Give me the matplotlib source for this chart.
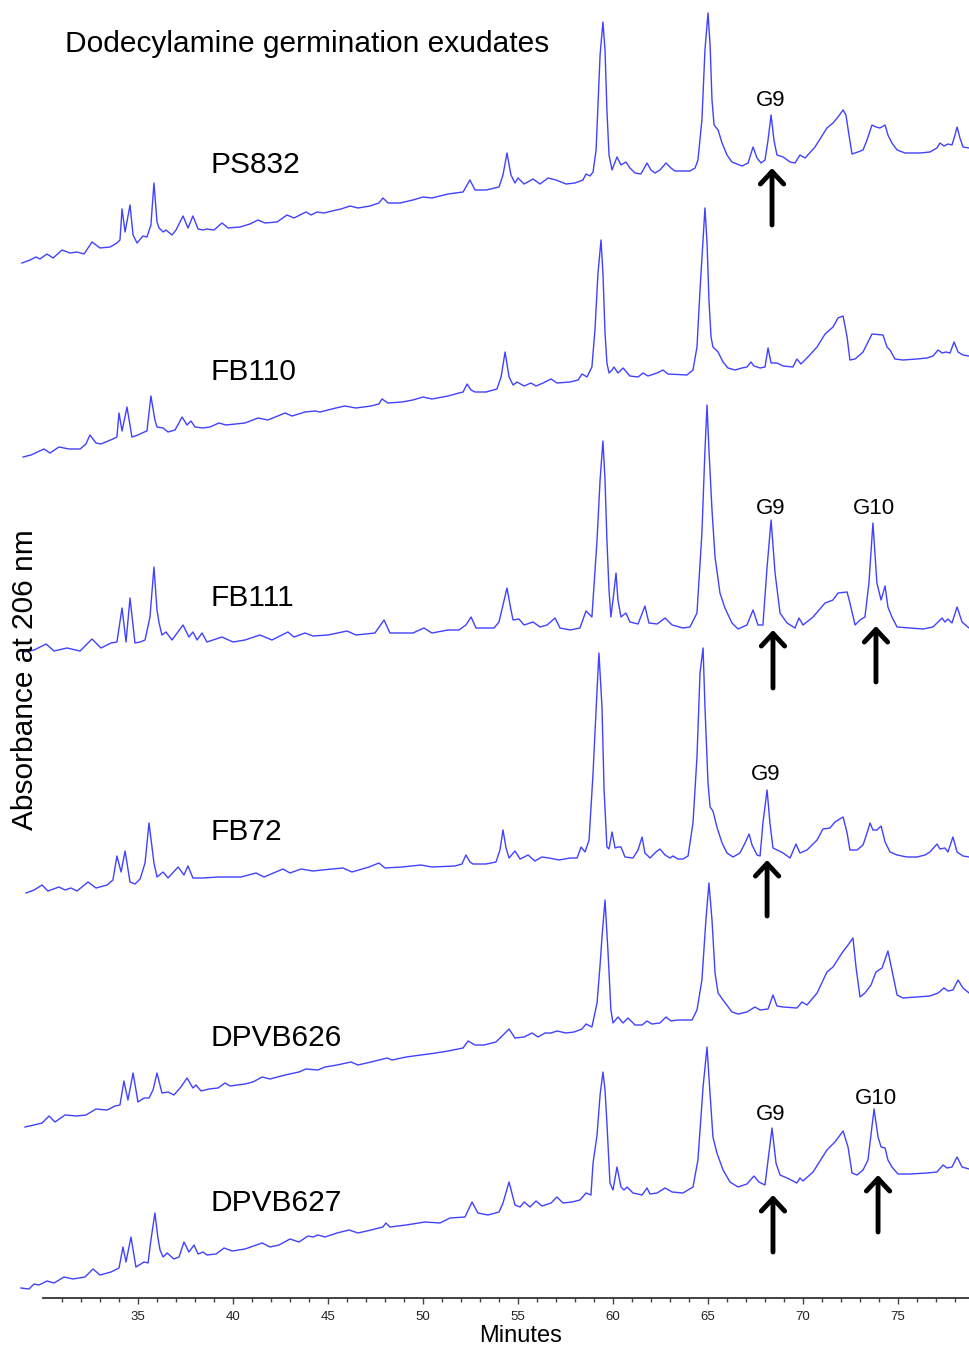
import matplotlib.pyplot as plt
from matplotlib import font_manager as fm

# Digitised chromatograms: retention time (min) and absorbance (arbitrary units,
# measured from each trace's own starting level)
ps832_t = [28.89, 29.32, 29.63, 29.84, 30.21, 30.53, 31.0, 31.42, 31.79, 32.16, 32.58, 33.0, 33.53, 33.89,
           34.05, 34.16, 34.32, 34.58, 34.74, 34.95, 35.26, 35.47, 35.68, 35.84, 36.0, 36.11, 36.32, 36.47,
           36.79, 37.0, 37.37, 37.63, 37.89, 38.16, 38.42, 38.63, 39.0, 39.42, 39.74, 40.37, 40.89, 41.32,
           41.68, 42.32, 42.84, 43.21, 43.84, 44.11, 44.42, 44.79, 45.21, 45.68, 46.16, 46.58, 47.21, 47.68,
           47.89, 48.16, 48.79, 49.47, 50.0, 50.47, 51.32, 52.11, 52.47, 52.74, 53.32, 54.0, 54.21, 54.42,
           54.63, 54.84, 55.0, 55.32, 55.79, 56.16, 56.58, 57.0, 57.53, 58.0, 58.42, 58.58, 58.79, 58.95,
           59.11, 59.21, 59.32, 59.47, 59.58, 59.68, 59.79, 59.95, 60.21, 60.42, 60.68, 60.89, 61.16, 61.47,
           61.79, 62.0, 62.21, 62.47, 62.79, 63.05, 63.26, 64.05, 64.32, 64.47, 64.68, 64.84, 65.0, 65.11,
           65.21, 65.32, 65.53, 65.74, 66.0, 66.26, 66.79, 67.11, 67.37, 67.58, 67.79, 68.0, 68.16, 68.32,
           68.47, 68.63, 68.95, 69.32, 69.58, 69.84, 70.11, 70.63, 71.26, 71.58, 71.84, 72.11, 72.26, 72.42,
           72.58, 72.89, 73.16, 73.37, 73.63, 73.84, 74.05, 74.32, 74.47, 74.68, 74.95, 75.37, 76.16, 76.68,
           77.05, 77.21, 77.42, 77.63, 77.84, 78.0, 78.11, 78.26, 78.42, 78.74]
ps832_a = [0, 3, 6, 4, 9, 5, 13, 10, 11, 9, 21, 15, 16, 20,
           23, 54, 31, 58, 28, 20, 27, 26, 38, 80, 41, 35, 31, 33,
           28, 33, 47, 35, 47, 34, 33, 34, 33, 40, 35, 36, 39, 43,
           40, 41, 48, 45, 51, 48, 51, 50, 52, 54, 57, 55, 57, 60,
           65, 60, 60, 63, 66, 65, 69, 71, 83, 73, 73, 76, 88, 110,
           88, 80, 85, 79, 84, 79, 85, 83, 79, 80, 83, 89, 87, 91,
           113, 158, 208, 241, 213, 153, 108, 93, 106, 98, 101, 95, 90, 89,
           100, 93, 90, 93, 100, 95, 92, 92, 95, 103, 143, 213, 250, 218,
           163, 138, 133, 120, 108, 101, 97, 100, 116, 105, 100, 103, 123, 148,
           123, 108, 106, 101, 100, 108, 105, 116, 135, 140, 146, 153, 148, 128,
           109, 111, 113, 123, 138, 136, 135, 138, 128, 120, 113, 110, 110, 111,
           115, 120, 117, 119, 118, 128, 136, 125, 116, 115]

fb110_t = [28.95, 29.37, 30.05, 30.37, 30.84, 31.37, 31.95, 32.26, 32.47, 32.79, 33.05, 33.68, 33.89, 34.0,
           34.16, 34.42, 34.68, 35.0, 35.21, 35.47, 35.68, 35.89, 36.0, 36.32, 36.58, 36.95, 37.32, 37.58,
           37.79, 38.0, 38.42, 38.79, 39.26, 39.63, 40.63, 41.32, 41.84, 42.74, 43.11, 43.79, 44.32, 44.58,
           45.42, 45.89, 46.47, 47.26, 47.68, 47.84, 48.16, 48.89, 49.47, 50.0, 50.47, 51.32, 51.89, 52.11,
           52.32, 52.53, 52.74, 53.32, 53.89, 54.11, 54.32, 54.53, 54.74, 54.95, 55.32, 55.68, 55.95, 56.32,
           56.74, 57.05, 57.74, 58.16, 58.37, 58.63, 58.89, 59.05, 59.21, 59.37, 59.47, 59.58, 59.68, 59.79,
           59.95, 60.05, 60.26, 60.53, 60.89, 61.32, 61.58, 61.84, 62.32, 62.63, 62.89, 63.89, 64.21, 64.42,
           64.58, 64.74, 64.84, 64.95, 65.05, 65.16, 65.26, 65.53, 65.79, 66.05, 66.42, 66.79, 67.05, 67.26,
           67.42, 67.74, 68.0, 68.16, 68.32, 68.63, 68.95, 69.47, 69.68, 69.89, 70.21, 70.74, 71.16, 71.58,
           71.84, 72.11, 72.32, 72.47, 72.74, 73.16, 73.42, 73.63, 74.21, 74.42, 74.58, 74.84, 75.26, 76.0,
           76.53, 76.84, 77.11, 77.32, 77.53, 77.74, 77.95, 78.16, 78.42, 78.74]
fb110_a = [0, 2, 8, 4, 10, 8, 8, 13, 22, 14, 13, 18, 20, 44,
           26, 50, 20, 22, 24, 26, 61, 37, 30, 29, 25, 27, 40, 32,
           36, 30, 29, 30, 34, 32, 34, 39, 37, 44, 41, 45, 46, 45,
           49, 51, 49, 51, 53, 58, 54, 55, 57, 60, 58, 61, 64, 65,
           73, 67, 65, 65, 68, 80, 105, 80, 72, 75, 71, 74, 71, 74,
           78, 74, 75, 77, 83, 80, 90, 127, 184, 217, 184, 124, 94, 84,
           87, 90, 84, 89, 81, 80, 84, 81, 84, 87, 83, 82, 87, 110,
           167, 217, 249, 214, 157, 120, 110, 105, 95, 89, 87, 89, 90, 95,
           91, 89, 90, 109, 94, 94, 91, 90, 98, 93, 99, 110, 123, 130,
           139, 141, 120, 97, 98, 105, 115, 123, 122, 110, 107, 98, 97, 98,
           99, 101, 107, 104, 105, 104, 115, 105, 102, 101]

fb111_t = [29.0, 29.53, 30.16, 30.58, 31.26, 31.95, 32.58, 33.05, 33.58, 33.89, 34.16, 34.37, 34.58, 34.84,
           35.11, 35.37, 35.63, 35.84, 36.0, 36.11, 36.26, 36.47, 36.79, 37.37, 37.68, 37.89, 38.11, 38.37,
           38.63, 39.42, 40.0, 40.63, 41.42, 42.05, 42.89, 43.21, 43.79, 44.21, 45.0, 46.0, 46.47, 47.47,
           47.95, 48.26, 48.89, 49.47, 50.05, 50.47, 51.32, 51.89, 52.26, 52.53, 52.79, 53.74, 54.0, 54.21,
           54.42, 54.63, 54.74, 55.05, 55.32, 55.79, 56.16, 56.53, 56.95, 57.21, 57.74, 58.26, 58.58, 58.89,
           59.16, 59.32, 59.47, 59.58, 59.68, 59.79, 59.89, 60.0, 60.16, 60.26, 60.42, 60.68, 60.89, 61.32,
           61.68, 61.89, 62.32, 62.74, 63.11, 63.68, 64.05, 64.42, 64.68, 64.84, 64.95, 65.05, 65.21, 65.37,
           65.63, 65.89, 66.26, 66.58, 67.05, 67.37, 67.63, 67.89, 68.11, 68.32, 68.53, 68.79, 69.16, 69.58,
           69.79, 70.0, 70.53, 71.16, 71.58, 71.84, 72.32, 72.47, 72.74, 73.0, 73.26, 73.47, 73.68, 73.89,
           74.11, 74.32, 74.47, 74.68, 74.95, 75.63, 76.32, 76.84, 77.32, 77.47, 77.63, 77.84, 78.11, 78.37,
           78.74]
fb111_a = [0, 2, 8, 1, 4, 1, 13, 4, 9, 10, 44, 10, 54, 9,
           10, 12, 35, 85, 42, 29, 17, 20, 12, 27, 15, 20, 12, 19,
           10, 15, 10, 12, 17, 12, 20, 15, 19, 16, 17, 21, 17, 19,
           32, 19, 19, 19, 24, 19, 22, 22, 27, 35, 24, 24, 30, 47,
           64, 42, 32, 33, 27, 30, 25, 27, 34, 24, 22, 24, 41, 35,
           112, 172, 211, 172, 112, 62, 35, 52, 79, 52, 35, 39, 30, 28,
           46, 29, 28, 34, 27, 24, 25, 39, 119, 202, 247, 202, 142, 95,
           59, 44, 29, 23, 27, 42, 27, 27, 85, 132, 79, 39, 29, 24,
           34, 27, 35, 49, 52, 59, 60, 49, 27, 32, 35, 69, 129, 69,
           52, 66, 45, 35, 25, 24, 23, 25, 34, 30, 33, 29, 45, 30,
           24]

fb72_t = [29.11, 29.53, 29.95, 30.26, 30.84, 31.16, 31.47, 31.79, 32.37, 32.79, 33.37, 33.68, 33.89, 34.11,
          34.32, 34.58, 34.84, 35.11, 35.37, 35.58, 35.84, 36.0, 36.32, 36.58, 37.11, 37.42, 37.63, 37.89,
          38.42, 39.21, 39.95, 40.42, 41.21, 41.63, 42.63, 43.0, 43.58, 44.21, 45.21, 45.79, 46.26, 47.16,
          47.68, 48.0, 48.89, 49.89, 50.47, 51.68, 52.05, 52.26, 52.47, 52.63, 53.32, 53.84, 54.05, 54.21,
          54.37, 54.53, 54.84, 55.11, 55.53, 55.89, 56.26, 56.63, 57.16, 57.74, 58.11, 58.32, 58.53, 58.74,
          58.95, 59.16, 59.26, 59.42, 59.53, 59.68, 59.79, 59.95, 60.11, 60.26, 60.42, 60.63, 61.05, 61.32,
          61.53, 61.68, 61.95, 62.26, 62.47, 62.74, 63.0, 63.16, 63.42, 63.68, 63.95, 64.21, 64.42, 64.58,
          64.74, 64.84, 65.0, 65.11, 65.26, 65.47, 65.74, 66.0, 66.32, 66.68, 66.95, 67.16, 67.32, 67.58,
          67.74, 67.89, 68.11, 68.26, 68.42, 68.63, 68.95, 69.32, 69.63, 69.84, 70.21, 70.74, 71.05, 71.42,
          71.68, 72.11, 72.32, 72.47, 72.84, 73.16, 73.37, 73.53, 73.68, 73.89, 74.11, 74.32, 74.58, 74.95,
          75.47, 76.0, 76.42, 76.68, 77.05, 77.21, 77.47, 77.63, 77.89, 78.11, 78.42, 78.74]
fb72_a = [0, 3, 8, 2, 6, 3, 5, 2, 11, 5, 8, 13, 37, 21,
          42, 11, 9, 14, 30, 70, 30, 16, 21, 15, 26, 18, 27, 15,
          15, 16, 16, 16, 20, 16, 24, 20, 24, 22, 24, 25, 21, 26,
          30, 25, 26, 28, 26, 27, 29, 38, 31, 29, 29, 31, 43, 63,
          45, 35, 42, 34, 38, 32, 36, 35, 33, 35, 35, 46, 41, 53,
          120, 203, 240, 186, 103, 46, 44, 61, 45, 46, 46, 36, 35, 43,
          56, 40, 35, 41, 44, 38, 35, 37, 34, 34, 37, 70, 136, 220,
          245, 186, 110, 86, 82, 66, 50, 40, 36, 40, 50, 59, 48, 38,
          37, 70, 103, 70, 45, 43, 40, 35, 49, 40, 43, 53, 64, 65,
          71, 76, 60, 43, 43, 48, 60, 70, 63, 63, 67, 51, 41, 38,
          36, 36, 38, 41, 49, 44, 45, 41, 56, 41, 37, 36]

dpvb626_t = [29.05, 29.53, 29.95, 30.32, 30.63, 31.16, 31.79, 32.26, 32.79, 33.37, 33.79, 34.05, 34.26, 34.47,
             34.74, 35.0, 35.32, 35.58, 35.79, 36.0, 36.26, 36.58, 36.89, 37.26, 37.58, 37.89, 38.05, 38.32,
             38.74, 39.21, 39.58, 39.84, 40.63, 41.05, 41.53, 41.95, 42.74, 43.47, 43.84, 44.47, 44.84, 45.47,
             46.21, 46.58, 47.26, 48.11, 48.37, 49.11, 49.89, 50.68, 51.32, 52.11, 52.37, 52.74, 53.21, 53.84,
             54.11, 54.53, 54.84, 55.32, 55.74, 56.05, 56.42, 56.74, 57.05, 57.53, 57.95, 58.37, 58.58, 58.89,
             59.16, 59.32, 59.42, 59.58, 59.74, 59.89, 60.0, 60.26, 60.53, 60.79, 61.16, 61.53, 61.79, 62.05,
             62.47, 62.79, 63.05, 63.42, 64.16, 64.42, 64.68, 64.89, 65.05, 65.21, 65.37, 65.53, 65.79, 66.26,
             66.58, 67.05, 67.47, 67.74, 68.16, 68.42, 68.63, 68.95, 69.68, 69.95, 70.21, 70.74, 71.26, 71.58,
             72.05, 72.37, 72.63, 72.79, 73.0, 73.26, 73.58, 73.84, 74.16, 74.47, 74.68, 74.95, 75.26, 76.0,
             76.68, 77.11, 77.42, 77.63, 77.89, 78.16, 78.42, 78.74]
dpvb626_a = [0, 2, 4, 11, 5, 12, 11, 12, 18, 17, 21, 22, 46, 27,
             54, 25, 29, 29, 37, 54, 34, 35, 32, 40, 49, 39, 42, 36,
             38, 39, 44, 41, 43, 45, 50, 48, 52, 55, 58, 57, 60, 62,
             65, 62, 65, 69, 67, 70, 72, 74, 76, 79, 86, 82, 82, 85,
             90, 98, 89, 90, 94, 90, 94, 94, 96, 94, 95, 98, 103, 100,
             124, 162, 190, 227, 174, 117, 104, 110, 104, 109, 102, 102, 106, 103,
             104, 110, 106, 107, 107, 117, 147, 207, 244, 207, 154, 134, 127, 115,
             113, 115, 120, 117, 118, 132, 121, 120, 119, 125, 122, 134, 155, 160,
             174, 182, 189, 160, 130, 134, 142, 155, 159, 176, 157, 132, 129, 130,
             131, 134, 139, 136, 137, 147, 139, 134]

dpvb627_t = [28.84, 29.26, 29.53, 29.79, 30.21, 30.58, 31.11, 31.58, 32.21, 32.63, 33.0, 33.58, 34.0, 34.21,
             34.37, 34.63, 34.89, 35.32, 35.53, 35.68, 35.89, 36.05, 36.16, 36.32, 36.53, 36.89, 37.16, 37.42,
             37.68, 37.95, 38.16, 38.42, 38.63, 39.11, 39.53, 39.95, 40.63, 41.53, 41.95, 42.42, 43.0, 43.47,
             43.95, 44.21, 44.47, 44.84, 45.47, 46.11, 46.58, 47.26, 47.89, 48.05, 48.26, 49.11, 50.11, 50.89,
             51.42, 52.21, 52.58, 52.89, 53.42, 54.0, 54.21, 54.53, 54.84, 55.11, 55.32, 55.63, 55.95, 56.26,
             56.74, 57.05, 57.37, 57.84, 58.26, 58.58, 58.84, 58.95, 59.16, 59.32, 59.47, 59.58, 59.68, 59.84,
             60.0, 60.21, 60.42, 60.58, 60.74, 61.05, 61.53, 61.79, 61.95, 62.32, 62.74, 63.11, 63.68, 64.21,
             64.47, 64.74, 64.95, 65.05, 65.26, 65.47, 65.79, 66.16, 66.58, 67.05, 67.42, 67.68, 68.0, 68.16,
             68.37, 68.58, 68.79, 69.16, 69.68, 69.84, 70.0, 70.53, 71.26, 71.68, 72.11, 72.37, 72.58, 72.84,
             73.16, 73.42, 73.74, 73.95, 74.11, 74.32, 74.47, 74.68, 75.0, 75.63, 76.53, 77.05, 77.37, 77.58,
             77.84, 78.11, 78.37, 78.74]
dpvb627_a = [0, -1, 4, 3, 7, 5, 11, 9, 11, 19, 13, 16, 20, 41,
             26, 51, 21, 26, 25, 48, 75, 50, 38, 31, 35, 29, 31, 46,
             36, 43, 34, 36, 33, 34, 40, 37, 39, 45, 41, 43, 49, 46,
             52, 51, 53, 51, 55, 58, 55, 58, 61, 65, 61, 63, 66, 65,
             70, 71, 86, 75, 73, 76, 85, 106, 83, 81, 86, 81, 87, 82,
             85, 91, 85, 86, 88, 95, 93, 125, 153, 193, 216, 198, 165, 105,
             98, 121, 101, 98, 101, 95, 93, 100, 94, 95, 100, 96, 95, 101,
             128, 201, 241, 211, 151, 135, 118, 106, 101, 104, 112, 106, 103, 128,
             160, 125, 113, 110, 105, 110, 107, 116, 138, 146, 157, 141, 115, 113,
             118, 128, 179, 151, 141, 140, 128, 121, 114, 114, 115, 116, 123, 120,
             121, 131, 121, 119]

samples = ["PS832", "FB110", "FB111", "FB72", "DPVB626", "DPVB627"]
times = [ps832_t, fb110_t, fb111_t, fb72_t, dpvb626_t, dpvb627_t]
signals = [ps832_a, fb110_a, fb111_a, fb72_a, dpvb626_a, dpvb627_a]
offsets = [1035, 841, 646, 405, 171, 10]          # vertical stacking of the traces
label_heights = [1133, 926, 700, 466, 260, 95]

# peak markers: (name, retention time, arrow tip, arrow tail, label height)
markers = [
    ("G9", 68.37, 1130, 1073, 1198),
    ("G9", 68.42, 668, 610, 790),
    ("G10", 73.84, 672, 616, 790),
    ("G9", 68.11, 438, 382, 523),
    ("G9", 68.42, 103, 46, 183),
    ("G10", 73.95, 123, 66, 200),
]

names = {f.name for f in fm.fontManager.ttflist}
main_font = "Liberation Sans" if "Liberation Sans" in names else "DejaVu Sans"
tick_font = "Liberation Sans Narrow" if "Liberation Sans Narrow" in names else main_font
plt.rcParams['font.family'] = [main_font, 'DejaVu Sans']

W, H = 969, 1348
fig = plt.figure(figsize=(W / 100, H / 100), dpi=100)
ax = fig.add_axes([0, 50 / H, 1, 1298 / H])

for t, a, off in zip(times, signals, offsets):
    ax.plot(t, [v + off for v in a], color='#4141ff', lw=1.0)

for name, y in zip(samples, label_heights):
    ax.text(38.79, y, name, fontsize=21.5, va='center', ha='left')

for lab, t, tip, tail, ly in markers:
    ax.annotate('', xy=(t, tip), xytext=(t, tail),
                arrowprops=dict(arrowstyle='->, head_length=0.45, head_width=0.42',
                                lw=3.5, color='black', mutation_scale=20,
                                shrinkA=0, shrinkB=0))
    ax.text(t - 0.1, ly, lab, fontsize=16, ha='center', va='center')

ax.set_xlim(527 / 19, 1496 / 19)
ax.set_ylim(0, 1298)
ax.set_yticks([])
ax.set_xticks(range(35, 80, 5))
ax.set_xticks(range(31, 79), minor=True)
ax.tick_params(axis='x', which='major', length=4.5, width=1.0, color='#444444',
               labelsize=9.5, pad=5, labelcolor='#222222')
ax.tick_params(axis='x', which='minor', length=3, width=1.0, color='#444444')
for lbl in ax.get_xticklabels():
    lbl.set_fontfamily(tick_font)
for side in ['left', 'top', 'right']:
    ax.spines[side].set_visible(False)
ax.spines['bottom'].set_bounds(30, 1496 / 19)
ax.spines['bottom'].set_linewidth(1.3)
ax.spines['bottom'].set_color('#333333')
ax.patch.set_alpha(0)

fig.text(65 / W, 1 - 44 / H, "Dodecylamine germination exudates", fontsize=21.5,
         ha='left', va='center')
fig.text(25 / W, 1 - 680 / H, "Absorbance at 206 nm", fontsize=21.5, rotation=90,
         ha='center', va='center')
fig.text(521 / W, 1 - 1336 / H, "Minutes", fontsize=17, ha='center', va='center')

fig.savefig("out.png", dpi=100)
